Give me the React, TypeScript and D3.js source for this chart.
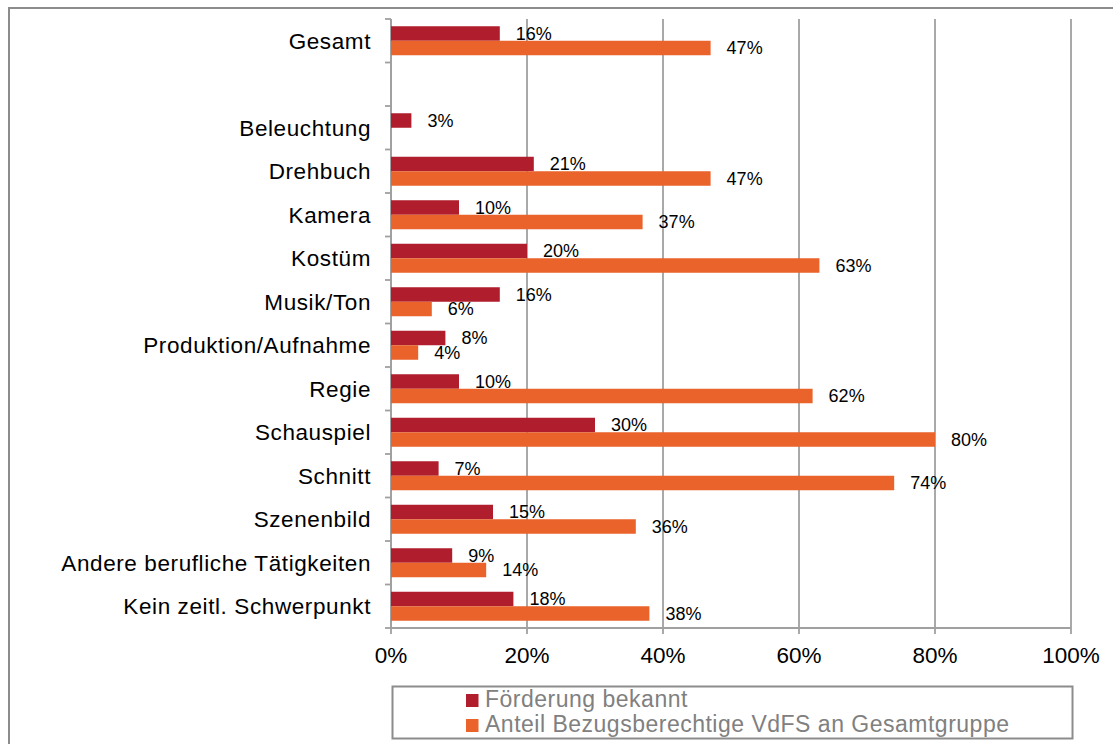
import React from 'react';
import * as d3 from 'd3';

// Kategorien (leere Zeile zwischen Gesamt und Einzelbereichen)
const categories = [
  'Gesamt',
  '',
  'Beleuchtung',
  'Drehbuch',
  'Kamera',
  'Kostüm',
  'Musik/Ton',
  'Produktion/Aufnahme',
  'Regie',
  'Schauspiel',
  'Schnitt',
  'Szenenbild',
  'Andere berufliche Tätigkeiten',
  'Kein zeitl. Schwerpunkt',
];

const foerderungBekannt: (number | null)[] = [16, null, 3, 21, 10, 20, 16, 8, 10, 30, 7, 15, 9, 18];
const anteilVdFS: (number | null)[] = [47, null, null, 47, 37, 63, 6, 4, 62, 80, 74, 36, 14, 38];

const xTicks = [0, 20, 40, 60, 80, 100];

const seriesNames = ['Förderung bekannt', 'Anteil Bezugsberechtige VdFS an Gesamtgruppe'];
const seriesColors = ['#B01E2D', '#E9632B'];

const W = 1113;
const H = 744;
const FONT = '"Liberation Sans", Arial, sans-serif';
const GRID = '#A0A0A0';

const App = () => {
  const x = d3.scaleLinear().domain([0, 100]).range([391, 1071]);
  const y = d3
    .scaleBand<number>()
    .domain(categories.map((_, i) => i))
    .range([19, 628])
    .paddingInner(0)
    .paddingOuter(0);
  const inner = d3
    .scaleBand<number>()
    .domain([0, 1])
    .range([0, y.bandwidth()])
    .paddingInner(0)
    .paddingOuter(0.5);

  const series = [foerderungBekannt, anteilVdFS];
  const [y0, y1] = y.range();
  const boundaries = categories.map((_, i) => y(i) as number).concat([y1]);

  return (
    <div style={{ position: 'fixed', left: 0, top: 0, width: W, height: H, background: '#fff' }}>
      <svg width={W} height={H} style={{ display: 'block' }} fontFamily={FONT}>
        {/* outer frame */}
        <rect x={9} y={8} width={1110} height={760} fill="none" stroke="#8C8C8C" strokeWidth={2} />

        {/* gridlines + bottom ticks */}
        {xTicks.map((t) => (
          <g key={t}>
            <line x1={x(t)} x2={x(t)} y1={y0} y2={y1 + 6} stroke={GRID} strokeWidth={1.8} />
            <text x={x(t)} y={663} textAnchor="middle" fontSize={22.5} fill="#000">
              {t}%
            </text>
          </g>
        ))}

        {/* left axis + ticks */}
        <line x1={x(0)} x2={x(0)} y1={y0} y2={y1} stroke={GRID} strokeWidth={1.8} />
        <line x1={x(0)} x2={x(100)} y1={y1} y2={y1} stroke={GRID} strokeWidth={1.8} />
        {boundaries.map((b, i) => (
          <line key={i} x1={x(0) - 6} x2={x(0)} y1={b} y2={b} stroke={GRID} strokeWidth={1.8} />
        ))}

        {/* category labels */}
        {categories.map((c, i) => (
          <text
            key={i}
            x={371}
            y={(y(i) as number) + y.bandwidth() / 2}
            dy="0.36em"
            textAnchor="end"
            fontSize={22.5}
            letterSpacing={0.6}
            fill="#000"
          >
            {c}
          </text>
        ))}

        {/* bars + value labels */}
        {series.map((vals, s) =>
          vals.map((v, i) => {
            if (v == null) return null;
            const by = (y(i) as number) + (inner(s) as number);
            return (
              <g key={`${s}-${i}`}>
                <rect x={x(0)} y={by} width={x(v) - x(0)} height={inner.bandwidth()} fill={seriesColors[s]} />
                <text
                  x={x(v) + 16}
                  y={by + inner.bandwidth() / 2}
                  dy="0.36em"
                  fontSize={18}
                  fill="#000"
                >
                  {v}%
                </text>
              </g>
            );
          })
        )}

        {/* legend */}
        <rect x={392.5} y={686.5} width={680} height={52} fill="#fff" stroke="#8C8C8C" strokeWidth={2} />
        {seriesNames.map((n, s) => (
          <g key={n} transform={`translate(466, ${694 + s * 25})`}>
            <rect x={0} y={0} width={12.5} height={13} fill={seriesColors[s]} />
            <text x={19} y={13.3} fontSize={23} letterSpacing={0.5} fill="#808080">
              {n}
            </text>
          </g>
        ))}
      </svg>
    </div>
  );
};

export default App;
